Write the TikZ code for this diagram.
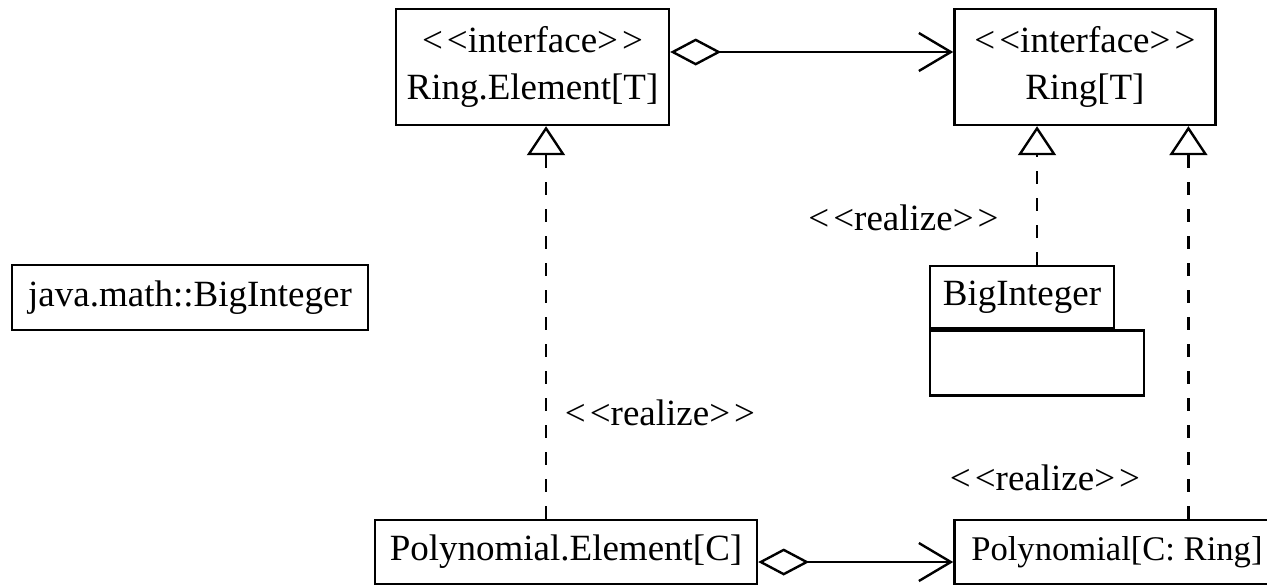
\documentclass[tikz,border=0pt]{standalone}
\usepackage{fontspec}
\setmainfont{Liberation Serif}
\usetikzlibrary{positioning}
\usetikzlibrary{arrows.meta}

\newcommand\umlstereo[1]{<\kern2pt<#1>\kern2pt>}

\tikzset{
 umlbox/.style={draw,line width=1.2pt,inner sep=0pt,align=center,font=\fontsize{18.5}{23.5}\selectfont},
 umllabel/.style={inner sep=0pt,font=\fontsize{18.5}{23.5}\selectfont},
 realizes/.style={line width=1.2pt,dash pattern=on 6.5pt off 7pt,-{Triangle[open,length=14.5pt,width=19pt,line width=1.2pt]}},
 aggr/.style={line width=1.2pt,{Diamond[open,length=25.5pt,width=13.5pt,line width=1.2pt]}-{Straight Barb[length=16pt,width=19pt,line width=1.2pt]}}
}

\begin{document}
\begin{tikzpicture}[x=0.5pt,y=-0.5pt]
 \useasboundingbox (0,0) rectangle (1267,586);
 \clip (0,0) rectangle (1267,586);
 % interfaces
 \node[umlbox,minimum width=136.5pt,minimum height=58pt] (relem) at (532.5,67) {\umlstereo{interface}\\Ring.Element[T]};
 \node[umlbox,minimum width=130.5pt,minimum height=58pt,right=141.5pt of relem] (ring) {\umlstereo{interface}\\Ring[T]};
 % classes
 \node[umlbox,minimum width=178pt,minimum height=32.5pt] (bigjava) at (190,297.5) {java.math::BigInteger};
 \node[umlbox,minimum width=92pt,minimum height=31pt] (bigint) at (1022,297) {BigInteger};
 \node[umlbox,minimum width=107pt,minimum height=32.5pt,anchor=north west] (bigintattr) at (bigint.south west) {};
 \node[umlbox,minimum width=191pt,minimum height=32pt] (polyelem) at (566,552) {Polynomial.Element[C]};
 \node[umlbox,minimum width=162.5pt,minimum height=32pt,right=97.5pt of polyelem,font=\fontsize{17.3}{22}\selectfont] (poly) {Polynomial[C: Ring]};
 % stereotype labels
 \node[umllabel] (lblbig) at (903.5,218) {\umlstereo{realize}};
 \node[umllabel] (lblelem) at (660,413) {\umlstereo{realize}};
 \node[umllabel] (lblpoly) at (1045,478) {\umlstereo{realize}};
 % connectors
 \draw[aggr] ([yshift=7.5pt]relem.east) -- ([yshift=7.5pt]ring.west);
 \draw[aggr] ([yshift=-5pt]polyelem.east) -- ([yshift=-5pt]poly.west);
 \draw[realizes] ([xshift=-10pt]polyelem.north) -- ([xshift=-10pt]polyelem.north |- relem.south);
 \draw[realizes] ([xshift=7.5pt]bigint.north) -- ([xshift=7.5pt]bigint.north |- ring.south);
 \draw[realizes] ([xshift=35.75pt]poly.north) -- ([xshift=35.75pt]poly.north |- ring.south);
\end{tikzpicture}
\end{document}
